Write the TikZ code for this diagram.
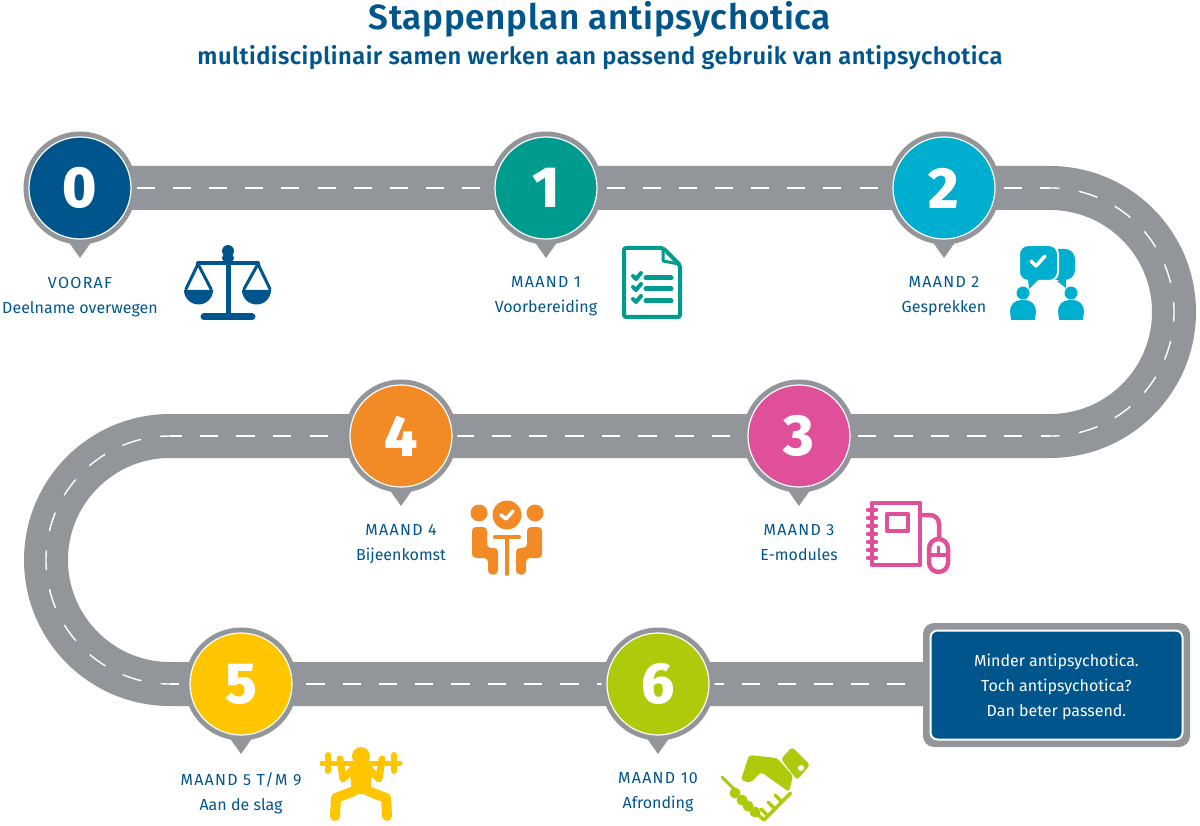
\documentclass[tikz,border=0pt]{standalone}
\usepackage{xcolor}
\usepackage{fontspec}
\setmainfont{Fira Sans}
\newfontfamily\kopfont{Fira Sans SemiBold}
\newfontfamily\cijferfont{Fira Sans ExtraBold}
\usepackage{tikz}
\usetikzlibrary{positioning, calc, backgrounds}

\definecolor{wegGrijs}{HTML}{92969A}
\definecolor{stapBlauw}{HTML}{00558C}
\definecolor{stapGroen}{HTML}{009B8F}
\definecolor{stapCyaan}{HTML}{00AED0}
\definecolor{stapRoze}{HTML}{E0509A}
\definecolor{stapOranje}{HTML}{F28A25}
\definecolor{stapGeel}{HTML}{FFC600}
\definecolor{stapLime}{HTML}{AFCA0B}

\tikzset{
    x=1pt, y=-1pt,
    pin/.style={
        circle, minimum size=102, inner sep=0, draw=white, line width=1.2,
        fill=#1, text=white,
        font={\fontsize{58}{58}\cijferfont\selectfont},
        preaction={draw=wegGrijs, line width=11}
    },
    weg/.style={draw=wegGrijs, line width=44},
    wegstreep/.style n args={3}{draw=white, line width=1.4, dash pattern=on #1 off #2, dash phase=#3},
    steplabel/.style={
        align=center, inner sep=0, text=stapBlauw,
        font={\fontsize{16}{25}\selectfont}
    },
    titel/.style={text=stapBlauw, inner sep=0, font={\fontsize{35}{36}\kopfont\selectfont}},
    subtitel/.style={text=stapBlauw, inner sep=0, font={\fontsize{23.7}{26}\kopfont\selectfont}},
    eindbox/.style={rounded corners=#1, inner sep=0, align=center},
    lijn/.style={line width=#1, line cap=round, line join=round},
    lijn/.default=4
}

\newcommand{\pinpunt}[1]{
    \fill[wegGrijs] ($(#1.center)+(-12,53)$) -- ($(#1.center)+(0,70)$) -- ($(#1.center)+(12,53)$) -- cycle;
}
\newcommand{\kapjes}[1]{{\addfontfeature{LetterSpace=8}#1}}

\begin{document}
\begin{tikzpicture}
    \useasboundingbox (0,0) rectangle (1200,826);

    % titel
    \node[titel] (kop) at (600,19) {\addfontfeature{LetterSpace=2}Stappenplan antipsychotica};
    \node[subtitel, below=8pt of kop] (subkop) {\addfontfeature{LetterSpace=2}multidisciplinair samen werken aan passend gebruik van antipsychotica};

    % stappen
    \node[pin=stapBlauw] (stap0) at (80,188) {0};
    \node[pin=stapGroen] (stap1) at (546,188) {1};
    \node[pin=stapCyaan] (stap2) at (944,188) {2};
    \node[pin=stapRoze] (stap3) at (799,436) {3};
    \node[pin=stapOranje] (stap4) at (401,436) {4};
    \node[pin=stapGeel] (stap5) at (241,684) {5};
    \node[pin=stapLime] (stap6) at (658,684) {6};
    \pinpunt{stap0}
    \pinpunt{stap1}
    \pinpunt{stap2}
    \pinpunt{stap3}
    \pinpunt{stap4}
    \pinpunt{stap5}
    \pinpunt{stap6}

    % eindbord
    \node[eindbox=11, fill=wegGrijs, minimum width=267, minimum height=124] (bord) at (1056.5,685) {};
    \node[eindbox=7, fill=stapBlauw, draw=white, line width=2, minimum width=252, minimum height=109, text=white,
        font={\fontsize{16}{25}\selectfont}] (einde) at (bord.center) {\rule{0pt}{17pt}Minder antipsychotica.\\Toch antipsychotica?\\Dan beter passend.};

    % weg
    \coordinate (bochtR) at (1050,188);
    \coordinate (bochtR2) at (1050,436);
    \coordinate (bochtL) at (170,436);
    \coordinate (bochtL2) at (170,684);
    \begin{scope}[on background layer]
        \draw[weg] (stap0.center) -- (bochtR)
            arc[start angle=-90, end angle=90, radius=124] -- (bochtL)
            arc[start angle=-90, end angle=-270, radius=124] -- (bochtL2) -- (bochtL2 -| bord.center);
        \draw[wegstreep={18}{18.13}{15.3}] (stap0.center) -- (bochtR);
        \draw[wegstreep={19.5}{19.5}{10}] (bochtR) arc[start angle=-90, end angle=90, radius=124];
        \draw[wegstreep={18.5}{18.05}{9}] (bochtR2) -- (bochtL);
        \draw[wegstreep={19.5}{19.5}{9.75}] (bochtL) arc[start angle=-90, end angle=-270, radius=124];
        \draw[wegstreep={18.3}{18}{9}] (bochtL2) -- (bochtL2 -| bord.west);
    \end{scope}

    % labels
    \node[steplabel, below=37pt of stap0.south] (label0) {\kapjes{VOORAF}\\Deelname overwegen};
    \node[steplabel, below=37pt of stap1.south] (label1) {\kapjes{MAAND 1}\\Voorbereiding};
    \node[steplabel, below=37pt of stap2.south] (label2) {\kapjes{MAAND 2}\\Gesprekken};
    \node[steplabel, below=37pt of stap3.south] (label3) {\kapjes{MAAND 3}\\E-modules};
    \node[steplabel, below=37pt of stap4.south] (label4) {\kapjes{MAAND 4}\\Bijeenkomst};
    \node[steplabel, below=37pt of stap5.south] (label5) {\kapjes{MAAND 5 T/M 9}\\Aan de slag};
    \node[steplabel, below=37pt of stap6.south] (label6) {\kapjes{MAAND 10}\\Afronding};

    % weegschaal
    \fill[stapBlauw] (228,251) circle (6);
    \draw[stapBlauw, lijn=8] (226,258) -- (230,258);
    \draw[stapBlauw, lijn=5] (228,258) -- (228,315);
    \draw[stapBlauw, lijn=4] (198,263) -- (258,263);
    \draw[stapBlauw, lijn=7] (204,317) -- (252,317);
    \draw[stapBlauw, lijn=3] (186,289) -- (198,264) -- (211,289);
    \draw[stapBlauw, lijn=3] (244,289) -- (258,264) -- (270,289);
    \fill[stapBlauw] (184,290) arc[start angle=180, end angle=0, radius=14.5] -- cycle;
    \fill[stapBlauw] (242,290) arc[start angle=180, end angle=0, radius=14.5] -- cycle;

    % checklist
    \draw[stapGroen, lijn=4, rounded corners=2] (624,248) -- (663,248) -- (680,265) -- (680,317) -- (624,317) -- cycle;
    \draw[stapGroen, lijn=3] (663,249) -- (663,261) -- (679,264);
    \draw[stapGroen, lijn=5] (646,278) -- (671,278);
    \draw[stapGroen, lijn=5] (646,289) -- (671,289);
    \draw[stapGroen, lijn=5] (646,301) -- (671,301);
    \draw[stapGroen, lijn=4] (633,276) -- (636,279) -- (641,273);
    \draw[stapGroen, lijn=4] (633,287) -- (636,290) -- (641,284);
    \draw[stapGroen, lijn=4] (633,299) -- (636,302) -- (641,296);

    % gesprek
    \fill[stapCyaan, rounded corners=10] (1046,249) rectangle (1075,280);
    \fill[stapCyaan] (1057,281) -- (1066,288) -- (1066,278) -- cycle;
    \fill[stapCyaan, draw=white, line width=2, rounded corners=9] (1019,245) rectangle (1058,281);
    \fill[stapCyaan] (1028,279) -- (1029,289) -- (1039,279) -- cycle;
    \draw[white, lijn=3.5] (1031,261) -- (1036,266) -- (1045,256);
    \fill[stapCyaan] (1023,293) circle (6.5);
    \fill[stapCyaan] (1071,293) circle (6.5);
    \fill[stapCyaan] (1011,320) -- (1010,311) arc[start angle=180, end angle=270, radius=11] -- (1025,300) arc[start angle=-90, end angle=0, radius=11] -- (1035,320) -- cycle;
    \fill[stapCyaan] (1059,320) -- (1058,311) arc[start angle=180, end angle=270, radius=11] -- (1073,300) arc[start angle=-90, end angle=0, radius=11] -- (1083,320) -- cycle;

    % notitieboek met muis
    \draw[stapRoze, lijn=4.5] (872,503) rectangle (920,565);
    \draw[stapRoze, lijn=4.5] (887,514) rectangle (908,531);
    \draw[stapRoze, lijn=4.5] (868,510) -- (876,510);
    \draw[stapRoze, lijn=4.5] (868,518) -- (876,518);
    \draw[stapRoze, lijn=4.5] (868,526) -- (876,526);
    \draw[stapRoze, lijn=4.5] (868,534) -- (876,534);
    \draw[stapRoze, lijn=4.5] (868,542) -- (876,542);
    \draw[stapRoze, lijn=4.5] (868,550) -- (876,550);
    \draw[stapRoze, lijn=4.5] (868,558) -- (876,558);
    \draw[stapRoze, lijn=4.5] (921,515) -- (930,515) arc[start angle=-90, end angle=0, radius=9] -- (939,538);
    \draw[stapRoze, lijn=4.5, rounded corners=9.5] (929,539) rectangle (948,572);
    \draw[stapRoze, lijn=4] (929,555) -- (948,555);
    \draw[stapRoze, lijn=3.5] (938.5,547) -- (938.5,555);

    % bijeenkomst
    \fill[stapOranje] (479,513) circle (8.5);
    \fill[stapOranje] (535,513) circle (8.5);
    \fill[stapOranje] (507,515) circle (14.5);
    \draw[white, lijn=3.5] (501,515) -- (506,519) -- (513,511);
    \draw[stapOranje, lijn=4] (495,537) -- (519,537);
    \draw[stapOranje, lijn=4] (507,537) -- (507,574);
    \fill[stapOranje, rounded corners=4] (472,527) -- (487,527) -- (487,548) -- (498,548) -- (498,574.5) -- (488,574.5) -- (488,558) -- (472,558) -- cycle;
    \fill[stapOranje, rounded corners=4] (542,527) -- (527,527) -- (527,548) -- (516,548) -- (516,574.5) -- (526,574.5) -- (526,558) -- (542,558) -- cycle;

    % gewichtheffer
    \fill[stapGeel] (361,756) circle (9);
    \draw[stapGeel, lijn=5] (322,763) -- (400,763);
    \draw[stapGeel, lijn=6] (328,755) -- (328,771);
    \draw[stapGeel, lijn=6] (394,755) -- (394,771);
    \draw[stapGeel, lijn=7] (340,759) -- (343,779) -- (352,770);
    \draw[stapGeel, lijn=7] (382,759) -- (379,779) -- (370,770);
    \fill[stapGeel, rounded corners=3] (349,763) -- (373,763) -- (370,794) -- (352,794) -- cycle;
    \draw[stapGeel, lijn=10] (354,791) -- (336,798) -- (335,816);
    \draw[stapGeel, lijn=10] (368,791) -- (386,798) -- (387,816);

    % handdruk
    \fill[stapLime, rounded corners=3] (792,747) -- (810,765) -- (797,780) -- (781,759) -- cycle;
    \fill[white] (801,768) circle (3);
    \fill[stapLime, rounded corners=3] (741,780) -- (749,755) -- (777,758) -- (793,776) -- (789,792) -- (761,772) -- (750,783) -- cycle;
    \draw[stapLime, lijn=3] (722,777) -- (738,793);
    \fill[stapLime] (735,793) circle (5.5);
    \fill[stapLime] (742,800) circle (5.5);
    \fill[stapLime] (748,806) circle (5.5);
    \fill[stapLime] (755,812) circle (5.5);
    \draw[stapLime, lijn=3.5] (790.5,793) -- (764,820) -- (757,814);
    \draw[stapLime, lijn=3.5] (782,802) -- (775,795);
    \draw[stapLime, lijn=3.5] (775,809) -- (768,802);
    \draw[stapLime, lijn=3.5] (768,816) -- (761,809);
\end{tikzpicture}
\end{document}
